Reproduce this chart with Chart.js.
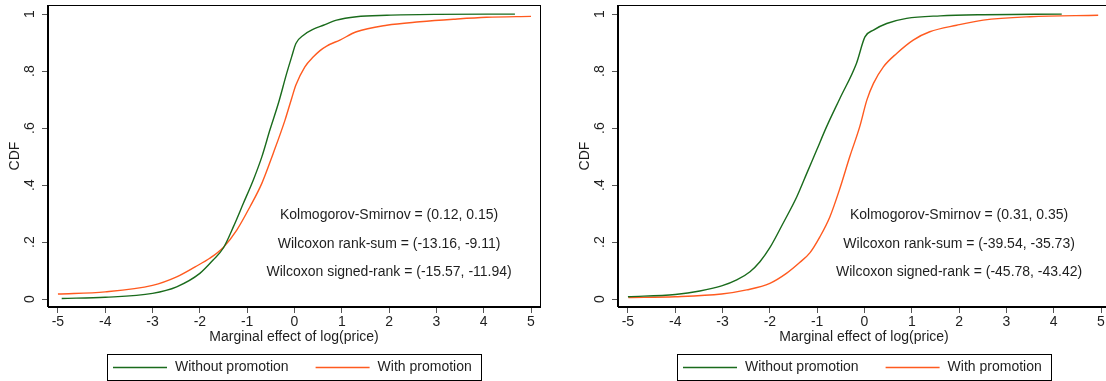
<!DOCTYPE html>
<html>
<head>
<meta charset="utf-8">
<script src="https://cdn.jsdelivr.net/npm/chart.js@4.4.0/dist/chart.umd.min.js"></script>
<style>
    html, body { margin: 0; padding: 0; background: #fff; overflow: hidden; width: 1106px; height: 381px; }
    .panel { position: absolute; top: 0; width: 570px; height: 381px; }
</style>
</head>
<body>
<div class="panel" style="left:0"><canvas id="leftChart" width="570" height="381"></canvas></div>
<div class="panel" style="left:570px"><canvas id="rightChart" width="570" height="381"></canvas></div>
<script>
// ================================================
// DATA
// ================================================

const xTicks = [-5, -4, -3, -2, -1, 0, 1, 2, 3, 4, 5];
const xTickLabels = ['-5', '-4', '-3', '-2', '-1', '0', '1', '2', '3', '4', '5'];
const yTicks = [0, 0.2, 0.4, 0.6, 0.8, 1];
const yTickLabels = ['0', '.2', '.4', '.6', '.8', '1'];

const seriesNames = ['Without promotion', 'With promotion'];

// Left panel
const leftWithoutX = [-4.92, -4.0, -3.0, -2.49, -2.0, -1.72, -1.5, -1.29, -1.08, -0.87, -0.69, -0.52, -0.34, -0.165, -0.06, 0.03, 0.19, 0.4, 0.61, 0.89, 1.31, 1.95, 3.0, 4.66];
const leftWithoutY = [0.002, 0.006, 0.02, 0.043, 0.09, 0.137, 0.18, 0.254, 0.336, 0.418, 0.499, 0.593, 0.687, 0.792, 0.85, 0.897, 0.926, 0.947, 0.961, 0.979, 0.991, 0.996, 0.999, 1.0];
const leftWithX = [-5.0, -4.0, -3.0, -2.49, -2.1, -1.79, -1.5, -1.22, -0.94, -0.69, -0.45, -0.2, -0.06, 0.03, 0.22, 0.4, 0.54, 0.68, 0.96, 1.31, 1.95, 2.65, 3.36, 4.06, 5.0];
const leftWithY = [0.0175, 0.025, 0.048, 0.078, 0.113, 0.143, 0.182, 0.242, 0.324, 0.406, 0.511, 0.628, 0.704, 0.751, 0.815, 0.85, 0.872, 0.888, 0.909, 0.938, 0.961, 0.973, 0.982, 0.989, 0.992];
const leftNotes = [
    'Kolmogorov-Smirnov = (0.12, 0.15)',
    'Wilcoxon rank-sum = (-13.16, -9.11)',
    'Wilcoxon signed-rank = (-15.57, -11.94)'
];

// Right panel
const rightWithoutX = [-5.0, -4.0, -3.48, -3.02, -2.7, -2.42, -2.21, -2.0, -1.72, -1.43, -1.22, -1.01, -0.8, -0.52, -0.17, 0.01, 0.19, 0.47, 0.89, 1.6, 2.5, 4.17];
const rightWithoutY = [0.008, 0.016, 0.028, 0.046, 0.067, 0.096, 0.131, 0.18, 0.266, 0.359, 0.441, 0.523, 0.605, 0.704, 0.827, 0.92, 0.944, 0.967, 0.985, 0.994, 0.998, 1.0];
const rightWithX = [-4.99, -4.0, -3.02, -2.49, -2.0, -1.65, -1.37, -1.15, -0.94, -0.73, -0.52, -0.31, -0.1, 0.05, 0.19, 0.4, 0.68, 1.03, 1.38, 1.95, 2.51, 3.5, 4.94];
const rightWithY = [0.005, 0.008, 0.0175, 0.032, 0.055, 0.09, 0.128, 0.163, 0.219, 0.289, 0.388, 0.5, 0.605, 0.698, 0.757, 0.815, 0.862, 0.909, 0.938, 0.961, 0.979, 0.991, 0.996];
const rightNotes = [
    'Kolmogorov-Smirnov = (0.31, 0.35)',
    'Wilcoxon rank-sum = (-39.54, -35.73)',
    'Wilcoxon signed-rank = (-45.78, -43.42)'
];

// where the test statistics sit, in data units
const noteX = 2;
const noteY = [0.293, 0.194, 0.093];

// ================================================
// STYLE
// ================================================

const GREEN = '#1a6b1c';
const ORANGE = '#ff5a1f';
const TEXT = '#1e1e1e';
const FONT = '"Liberation Sans", Arial, sans-serif';
const FONT_SIZE = 14;

Chart.defaults.font.family = FONT;
Chart.defaults.font.size = FONT_SIZE;
Chart.defaults.color = TEXT;

function toPoints(xs, ys) {
    return xs.map((x, i) => ({ x: x, y: ys[i] }));
}

// Box around the plot region (Stata style)
const plotFrame = {
    id: 'plotFrame',
    afterDatasetsDraw(chart) {
        const { ctx, chartArea: a } = chart;
        ctx.save();
        ctx.strokeStyle = '#000';
        ctx.lineWidth = 1;
        ctx.strokeRect(Math.round(a.left) - 0.5, Math.round(a.top) + 0.5,
            Math.round(a.right - a.left) + 1, Math.round(a.bottom - a.top) - 1);
        ctx.restore();
    }
};

// Test statistics written inside the plot
const statNotes = {
    id: 'statNotes',
    afterDatasetsDraw(chart, args, opts) {
        const { ctx, scales } = chart;
        ctx.save();
        ctx.font = FONT_SIZE + 'px ' + FONT;
        ctx.fillStyle = TEXT;
        ctx.textAlign = 'center';
        ctx.textBaseline = 'middle';
        opts.lines.forEach((txt, i) => {
            ctx.fillText(txt, scales.x.getPixelForValue(noteX), scales.y.getPixelForValue(noteY[i]));
        });
        ctx.restore();
    }
};

// Boxed legend below the axis title
const boxedLegend = {
    id: 'boxedLegend',
    afterDraw(chart) {
        const { ctx, chartArea: a } = chart;
        const padL = 6, padR = 9, lineLen = 54, lineGap = 8, itemGap = 27;
        ctx.save();
        ctx.font = FONT_SIZE + 'px ' + FONT;
        const items = chart.data.datasets.map(ds => ({
            label: ds.label,
            color: ds.borderColor,
            w: ctx.measureText(ds.label).width
        }));
        let total = padL + padR;
        items.forEach((it, i) => { total += lineLen + lineGap + it.w + (i ? itemGap : 0); });
        const left = Math.round((a.left + a.right) / 2 - total / 2);
        const top = 354, h = 26;
        ctx.strokeStyle = '#000';
        ctx.lineWidth = 1;
        ctx.strokeRect(left + 0.5, top + 0.5, Math.round(total), h);

        const midY = top + h / 2 + 0.5;
        let x = left + padL;
        items.forEach((it, i) => {
            if (i) x += itemGap;
            ctx.strokeStyle = it.color;
            ctx.lineWidth = 1.5;
            ctx.beginPath();
            ctx.moveTo(x, midY);
            ctx.lineTo(x + lineLen, midY);
            ctx.stroke();
            x += lineLen + lineGap;
            ctx.fillStyle = TEXT;
            ctx.textAlign = 'left';
            ctx.textBaseline = 'middle';
            ctx.fillText(it.label, x, midY);
            x += it.w;
        });
        ctx.restore();
    }
};

function makeCdfChart(canvasId, withoutX, withoutY, withX, withY, notes) {
    const ctx = document.getElementById(canvasId);
    if (!ctx) return null;

    return new Chart(ctx, {
        type: 'line',
        data: {
            datasets: [
                {
                    label: seriesNames[0],
                    data: toPoints(withoutX, withoutY),
                    borderColor: GREEN,
                    borderWidth: 1.4,
                    pointRadius: 0,
                    cubicInterpolationMode: 'monotone',
                    fill: false
                },
                {
                    label: seriesNames[1],
                    data: toPoints(withX, withY),
                    borderColor: ORANGE,
                    borderWidth: 1.4,
                    pointRadius: 0,
                    cubicInterpolationMode: 'monotone',
                    fill: false
                }
            ]
        },
        options: {
            responsive: false,
            devicePixelRatio: 1,
            animation: false,
            layout: {
                padding: { top: 5, right: 30, bottom: 30, left: 0 }
            },
            plugins: {
                legend: { display: false },
                tooltip: { enabled: false },
                statNotes: { lines: notes }
            },
            scales: {
                x: {
                    type: 'linear',
                    min: -5.21,
                    max: 5.19,
                    afterBuildTicks: s => { s.ticks = xTicks.map(v => ({ value: v })); },
                    afterFit: s => { s.height = 44; s.paddingLeft = 0; s.paddingRight = 0; },
                    grid: { drawOnChartArea: false, tickLength: 6, color: '#555' },
                    border: { color: '#000' },
                    ticks: {
                        padding: 1,
                        maxRotation: 0,
                        autoSkip: false,
                        callback: (v, i) => xTickLabels[i]
                    },
                    title: {
                        display: true,
                        text: 'Marginal effect of log(price)',
                        padding: { top: 0, bottom: 5 }
                    }
                },
                y: {
                    type: 'linear',
                    min: -0.028,
                    max: 1.032,
                    afterBuildTicks: s => { s.ticks = yTicks.map(v => ({ value: v })); },
                    afterFit: s => { s.width = 48; s.paddingTop = 0; s.paddingBottom = 0; },
                    grid: { drawOnChartArea: false, tickLength: 6, color: '#555' },
                    border: { color: '#000' },
                    ticks: {
                        minRotation: 90,
                        maxRotation: 90,
                        crossAlign: 'center',
                        padding: 6,
                        autoSkip: false,
                        callback: (v, i) => yTickLabels[i]
                    },
                    title: {
                        display: true,
                        text: 'CDF',
                        padding: { top: 7, bottom: 0 }
                    }
                }
            }
        },
        plugins: [plotFrame, statNotes, boxedLegend]
    });
}

makeCdfChart('leftChart', leftWithoutX, leftWithoutY, leftWithX, leftWithY, leftNotes);
makeCdfChart('rightChart', rightWithoutX, rightWithoutY, rightWithX, rightWithY, rightNotes);
</script>
</body>
</html>
